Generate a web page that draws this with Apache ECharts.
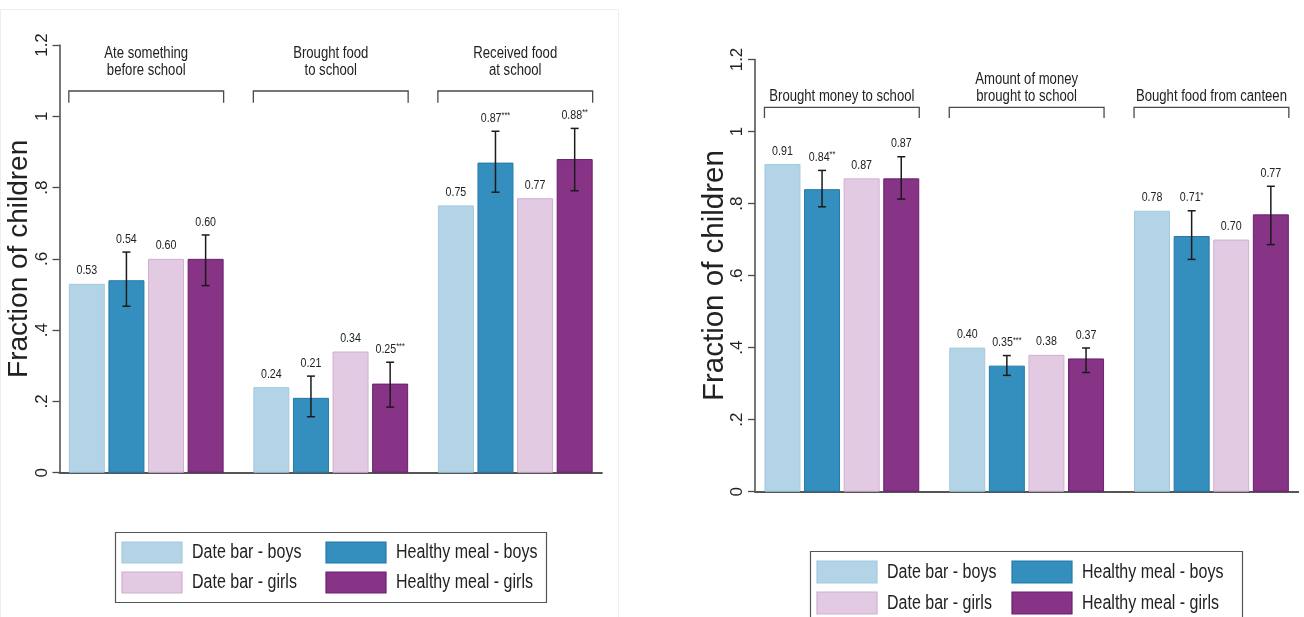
<!DOCTYPE html>
<html>
<head>
<meta charset="utf-8">
<script src="https://cdn.jsdelivr.net/npm/echarts@6/dist/echarts.min.js"></script>
<style>
  html, body { margin: 0; padding: 0; background: #ffffff; }
  #chart { width: 1304px; height: 617px; }
</style>
</head>
<body>
<div id="chart"></div>
<script>
// ---- Data -------------------------------------------------------------
const seriesNames = ['Date bar - boys', 'Healthy meal - boys', 'Date bar - girls', 'Healthy meal - girls'];
const yTickLabels = ['0', '.2', '.4', '.6', '.8', '1', '1.2'];

// Left panel: food at / before school
const leftCategories = ['Ate something\nbefore school', 'Brought food\nto school', 'Received food\nat school'];
const leftDateBoys = [0.53, 0.24, 0.75];
const leftHealthyBoys = [0.54, 0.21, 0.87];
const leftDateGirls = [0.60, 0.34, 0.77];
const leftHealthyGirls = [0.60, 0.25, 0.88];
const leftHealthyBoysCI = [[0.467, 0.619], [0.157, 0.271], [0.787, 0.958]];
const leftHealthyGirlsCI = [[0.525, 0.667], [0.184, 0.310], [0.791, 0.966]];
const leftHealthyBoysStars = ['', '', '***'];
const leftHealthyGirlsStars = ['', '***', '**'];

// Right panel: money and canteen
const rightCategories = ['Brought money to school', 'Amount of money\nbrought to school', 'Bought food from canteen'];
const rightDateBoys = [0.91, 0.40, 0.78];
const rightHealthyBoys = [0.84, 0.35, 0.71];
const rightDateGirls = [0.87, 0.38, 0.70];
const rightHealthyGirls = [0.87, 0.37, 0.77];
const rightHealthyBoysCI = [[0.791, 0.892], [0.323, 0.378], [0.645, 0.780]];
const rightHealthyGirlsCI = [[0.8125, 0.930], [0.331, 0.399], [0.686, 0.848]];
const rightHealthyBoysStars = ['**', '***', '*'];
const rightHealthyGirlsStars = ['', '', ''];

// ---- Style ------------------------------------------------------------
const SANS = "'Liberation Sans', Arial, sans-serif";
const NARROW_X = 0.82;          // horizontal squeeze for the narrow text look
const fills = ['#b3d4e7', '#348fbe', '#e2cbe2', '#873386'];
const borders = ['#a2c8de', '#2379a9', '#d2add2', '#6c1f6e'];
const BAR_W = 36;
const BAR_STEP = BAR_W * 1.1;   // bar width + 10% gap

const toPoints = arr => arr.map((v, i) => [i, v]);

function barSeries(idx, values, gridIdx) {
  return {
    type: 'bar',
    name: seriesNames[idx],
    xAxisIndex: gridIdx, yAxisIndex: gridIdx,
    data: toPoints(values),
    barWidth: BAR_W,
    barGap: '10%',
    itemStyle: { color: fills[idx], borderColor: borders[idx], borderWidth: 1 },
    z: 2
  };
}

// Value label for one bar series, with optional error bar underneath it
function labelSeries(pos, values, ci, stars, gridIdx) {
  return {
    type: 'custom',
    xAxisIndex: gridIdx, yAxisIndex: gridIdx,
    data: values.map((v, i) => ci ? [i, v, ci[i][0], ci[i][1]] : [i, v, v, v]),
    z: 5,
    silent: true,
    renderItem: function (params, api) {
      const i = params.dataIndex;
      const x = api.value(0);
      const hiVal = Math.max(api.value(1), api.value(3));
      const pHi = api.coord([x, api.value(3)]);
      const pLo = api.coord([x, api.value(2)]);
      const pTop = api.coord([x, hiVal]);
      const cx = pHi[0] + (pos - 1.5) * BAR_STEP;
      const children = [];
      if (ci) {
        const cap = 4;
        const st = { stroke: '#1b1b1b', lineWidth: 1.5 };
        children.push(
          { type: 'line', shape: { x1: cx, y1: pHi[1], x2: cx, y2: pLo[1] }, style: st },
          { type: 'line', shape: { x1: cx - cap, y1: pHi[1], x2: cx + cap, y2: pHi[1] }, style: st },
          { type: 'line', shape: { x1: cx - cap, y1: pLo[1], x2: cx + cap, y2: pLo[1] }, style: st }
        );
      }
      const txt = values[i].toFixed(2);
      const s = stars ? stars[i] : '';
      children.push({
        type: 'text', x: cx, y: pTop[1] - 6, scaleX: NARROW_X,
        style: {
          text: s ? '{v|' + txt + '}{s|' + s + '}' : '{v|' + txt + '}',
          align: 'center', verticalAlign: 'bottom',
          rich: {
            v: { fontFamily: SANS, fontSize: 13, fill: '#222', lineHeight: 14 },
            s: { fontFamily: SANS, fontSize: 9, fill: '#222', verticalAlign: 'top', lineHeight: 14 }
          }
        }
      });
      return { type: 'group', children: children };
    }
  };
}

// Group headers with brackets spanning each cluster of bars
function headerSeries(cats, gridIdx, bracketOff, tickLen, textOff) {
  return {
    type: 'custom',
    xAxisIndex: gridIdx, yAxisIndex: gridIdx,
    data: cats.map((c, i) => [i]),
    z: 5,
    silent: true,
    renderItem: function (params, api) {
      const top = api.coord([api.value(0), 1.2]);
      const cx = top[0];
      const half = 2 * BAR_STEP - (BAR_STEP - BAR_W) / 2;
      const by = top[1] + bracketOff;
      return {
        type: 'group',
        children: [
          {
            type: 'polyline',
            shape: { points: [[cx - half, by + tickLen], [cx - half, by], [cx + half, by], [cx + half, by + tickLen]] },
            style: { stroke: '#4a4a4a', lineWidth: 1.3, fill: null }
          },
          {
            type: 'text', x: cx, y: top[1] + textOff, scaleX: NARROW_X,
            style: {
              text: cats[params.dataIndex], align: 'center', verticalAlign: 'bottom',
              fontFamily: SANS, fontSize: 16, lineHeight: 17, fill: '#222'
            }
          }
        ]
      };
    }
  };
}

function yAxisCfg(gridIdx, nameGap, nameSize) {
  return {
    type: 'value', gridIndex: gridIdx,
    min: 0, max: 1.2, interval: 0.2,
    name: 'Fraction of children', nameLocation: 'middle', nameGap: nameGap,
    nameMoveOverlap: false,
    nameTextStyle: { fontFamily: SANS, fontSize: nameSize, color: '#222' },
    axisLine: { show: true, onZero: false, lineStyle: { color: '#4a4a4a', width: 1.5 } },
    axisTick: { show: true, length: 7, lineStyle: { color: '#4a4a4a', width: 1.3 } },
    axisLabel: {
      rotate: 90, margin: 9, fontFamily: SANS, fontSize: 17, color: '#222',
      formatter: v => yTickLabels[Math.round(v / 0.2)]
    },
    splitLine: { show: false }
  };
}

function xAxisCfg(gridIdx) {
  return {
    type: 'value', gridIndex: gridIdx,
    min: -0.47, max: 2.47,
    axisLine: { show: true, onZero: false, lineStyle: { color: '#555', width: 1.8 } },
    axisTick: { show: false }, axisLabel: { show: false }, splitLine: { show: false }
  };
}

// Boxed two-column key: row 1 boys, row 2 girls
const legendOrder = [0, 1, 2, 3];
function legendGraphics(box, swX, swY, swW, swH, rowStep, colStep) {
  const els = [{
    type: 'rect', silent: true,
    shape: { x: box[0], y: box[1], width: box[2], height: box[3] },
    style: { fill: '#fff', stroke: '#555', lineWidth: 1.2 }
  }];
  legendOrder.forEach((si, k) => {
    const col = k % 2, row = Math.floor(k / 2);
    const x = swX + col * colStep, y = swY + row * rowStep;
    els.push({
      type: 'rect', silent: true,
      shape: { x: x, y: y, width: swW, height: swH },
      style: { fill: fills[si], stroke: borders[si], lineWidth: 1.2 }
    });
    els.push({
      type: 'text', silent: true, x: x + swW + 10, y: y + swH / 2, scaleX: 0.8,
      style: {
        text: seriesNames[si], fontFamily: SANS, fontSize: 20, fill: '#222',
        align: 'left', verticalAlign: 'middle'
      }
    });
  });
  return els;
}

const chart = echarts.init(document.getElementById('chart'), null, { renderer: 'canvas' });

chart.setOption({
  animation: false,
  backgroundColor: '#ffffff',
  graphic: [
    {
      type: 'rect', silent: true, z: -10,
      shape: { x: 0.5, y: 9.5, width: 618, height: 620 },
      style: { fill: null, stroke: '#efefef', lineWidth: 1 }
    },
    ...legendGraphics([115.5, 532.5, 431, 70], 122, 542, 60, 21, 30, 204),
    ...legendGraphics([810.5, 551.5, 432, 72], 817, 561, 60, 22, 31, 195)
  ],
  grid: [
    { left: 59.5, top: 45, width: 542.5, height: 427.7 },
    { left: 755, top: 59.5, width: 543.3, height: 432.2 }
  ],
  xAxis: [xAxisCfg(0), xAxisCfg(1)],
  yAxis: [yAxisCfg(0, 26, 28), yAxisCfg(1, 25, 29.5)],
  series: [
    barSeries(0, leftDateBoys, 0),
    barSeries(1, leftHealthyBoys, 0),
    barSeries(2, leftDateGirls, 0),
    barSeries(3, leftHealthyGirls, 0),
    labelSeries(0, leftDateBoys, null, null, 0),
    labelSeries(1, leftHealthyBoys, leftHealthyBoysCI, leftHealthyBoysStars, 0),
    labelSeries(2, leftDateGirls, null, null, 0),
    labelSeries(3, leftHealthyGirls, leftHealthyGirlsCI, leftHealthyGirlsStars, 0),
    headerSeries(leftCategories, 0, 46, 11.7, 34.5),

    barSeries(0, rightDateBoys, 1),
    barSeries(1, rightHealthyBoys, 1),
    barSeries(2, rightDateGirls, 1),
    barSeries(3, rightHealthyGirls, 1),
    labelSeries(0, rightDateBoys, null, null, 1),
    labelSeries(1, rightHealthyBoys, rightHealthyBoysCI, rightHealthyBoysStars, 1),
    labelSeries(2, rightDateGirls, null, null, 1),
    labelSeries(3, rightHealthyGirls, rightHealthyGirlsCI, rightHealthyGirlsStars, 1),
    headerSeries(rightCategories, 1, 47.8, 10.7, 45.7)
  ]
});
</script>
</body>
</html>
